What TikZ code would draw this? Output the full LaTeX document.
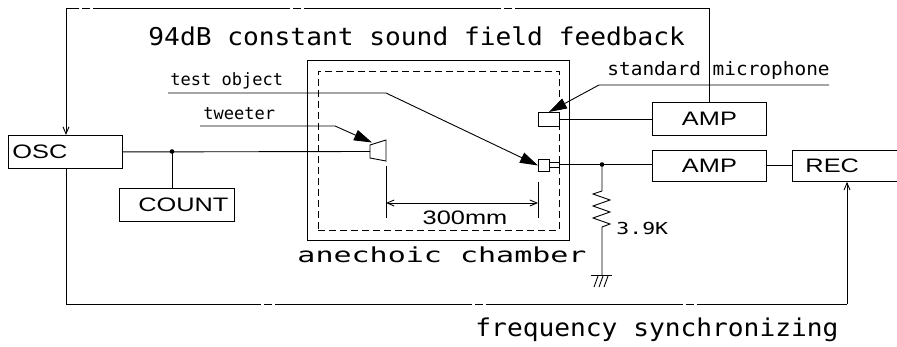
\documentclass[tikz,border=0pt]{standalone}
\usepackage{fontspec}
\setmainfont{Liberation Sans}
\newfontfamily\boxfont[FakeStretch=1.3]{Liberation Sans}
\newfontfamily\titlefont[FakeStretch=1.07]{DejaVu Sans Mono}
\newfontfamily\lblfont{DejaVu Sans Mono}
\newfontfamily\lblwfont[FakeStretch=1.05]{DejaVu Sans Mono}
\newfontfamily\chamberfont[FakeStretch=1.45]{DejaVu Sans Mono}
\newfontfamily\resfont[FakeStretch=1.3]{DejaVu Sans Mono}
\usetikzlibrary{arrows.meta,calc}
\begin{document}
\begin{tikzpicture}[x=1pt,y=-1pt,line width=0.9pt,
  box/.style={draw,inner sep=0pt,minimum height=33pt,font=\boxfont\fontsize{19.5}{20}\selectfont},
  plainbox/.style={draw,inner sep=0pt,anchor=north west},
  lbl/.style={inner sep=0pt,anchor=base west},
  filltip/.style={-{Triangle[length=18pt,width=11pt]}},
  barb/.style={-{Straight Barb[length=7pt,width=6pt]}},
  dashdot/.style={dash pattern=on 197pt off 3pt on 8pt off 3pt,dash phase=3pt},
  chamberdash/.style={dash pattern=on 7pt off 4pt},
]
\useasboundingbox (0,0) rectangle (897,347);

% boxes
\node[box,anchor=north west,text width=106pt,inner xsep=4pt,align=left] (osc) at (8,135) {OSC};
\node[box,anchor=north west,text width=103pt,inner xsep=6pt,align=right] (count) at (119,188) {COUNT};
\node[box,anchor=north west,minimum width=114pt] (amp1) at (652,102) {AMP};
\node[box,anchor=north west,minimum width=114pt,minimum height=31pt] (amp2) at (652,150) {AMP};
\node[box,anchor=north west,text width=100pt,inner xsep=13pt,align=left,minimum height=31pt] (rec) at (792,150) {REC};

% anechoic chamber
\node[plainbox,minimum width=262pt,minimum height=180pt] (chamber) at (307,60) {};
\node[plainbox,chamberdash,minimum width=241pt,minimum height=159pt] (inner) at (318,71) {};
\node[lbl,font=\chamberfont\fontsize{20.7}{22}\selectfont] (chlbl) at (297,263) {anechoic chamber};

% microphones
\node[plainbox,minimum width=21pt,minimum height=14pt] (smic) at (538,112) {};
\node[plainbox,minimum width=11pt,minimum height=12pt] (tmic) at (538,159) {};
\node[plainbox,minimum width=10pt,minimum height=5pt] (plug) at (549,162) {};

% tweeter
\draw (370,145) -- (386,140) -- (386,161) -- (370,158) -- cycle;
\coordinate (twin) at (370,151.5);
\coordinate (j1) at (172,151.5);
\draw (osc.east) -- (twin);
\fill (j1) circle (2.3pt);
\draw (j1) -- (j1 |- count.north);

% mic connections
\draw (smic.east) -- (smic.east -| amp1.west);
\coordinate (j2) at (602,164.5);
\draw (plug.east) -- (plug.east -| amp2.west);
\fill (j2) circle (2.3pt);
\draw (amp2.east) -- (amp2.east -| rec.west);

% resistor and ground
\coordinate (gnd) at (602,275);
\draw (j2) -- ++(0,26.5) -- ++(-9,3) -- ++(17,6) -- ++(-17,6) -- ++(17,6) -- ++(-17,6) -- ++(17,6) -- ++(-8,3) -- (gnd);
\draw ($(gnd)+(-11,0)$) -- ($(gnd)+(10,0)$);
\draw (594,287) -- (598,276) (599,287) -- (603,276) (604,287) -- (608,276);
\node[lbl,font=\resfont\fontsize{16.5}{18}\selectfont] (reslbl) at (616,235) {3.9K};

% labels with leaders
\node[lbl,font=\lblfont\fontsize{17}{18}\selectfont] (tolbl) at (170,86) {test object};
\coordinate (to1) at (168,93);
\coordinate (to2) at (386,93);
\draw[filltip] (to1) -- (to2) -- (tmic.west);

\node[lbl,font=\lblfont\fontsize{17}{18}\selectfont] (twlbl) at (203,120) {tweeter};
\coordinate (tw1) at (200,126);
\coordinate (tw2) at (335,126);
\coordinate (twtip) at (372,142.5);
\draw[filltip] (tw1) -- (tw2) -- (twtip);

\node[lbl,font=\lblwfont\fontsize{18.5}{20}\selectfont] (smlbl) at (607,76) {standard microphone};
\coordinate (sm1) at (829,85);
\coordinate (sm2) at (599,85);
\draw[filltip] (sm1) -- (sm2) -- (smic.north);

% dimension
\coordinate (dimL) at (386,203);
\coordinate (dimR) at (538,203);
\draw (386,166) -- (386,218);
\draw (538,182) -- (538,218);
\draw[{Straight Barb[length=7pt,width=6pt]}-{Straight Barb[length=7pt,width=6pt]}] (dimL) -- (dimR);
\node[lbl,font=\boxfont\fontsize{19.5}{20}\selectfont,anchor=base] (dimlbl) at (465,225) {300mm};

% feedback loop (top)
\coordinate (fbA) at (amp1.north |- 0,8);
\coordinate (fbB) at (66,8);
\draw (amp1.north) -- (fbA);
\draw[dashdot] (fbA) -- (fbB);
\draw[barb] (fbB) -- (fbB |- osc.north);
\node[lbl,font=\titlefont\fontsize{24.5}{26}\selectfont] (title) at (148,46) {94dB constant sound field feedback};

% synchronizing loop (bottom)
\coordinate (fbC) at (66,304);
\coordinate (fbD) at (847,304);
\draw (fbC |- osc.south) -- (fbC);
\draw[dashdot,dash phase=2pt] (fbC) -- (fbD);
\draw[barb] (fbD) -- (fbD |- rec.south);
\node[lbl,font=\titlefont\fontsize{24.5}{26}\selectfont] (synclbl) at (475,337) {frequency synchronizing};
\end{tikzpicture}
\end{document}
